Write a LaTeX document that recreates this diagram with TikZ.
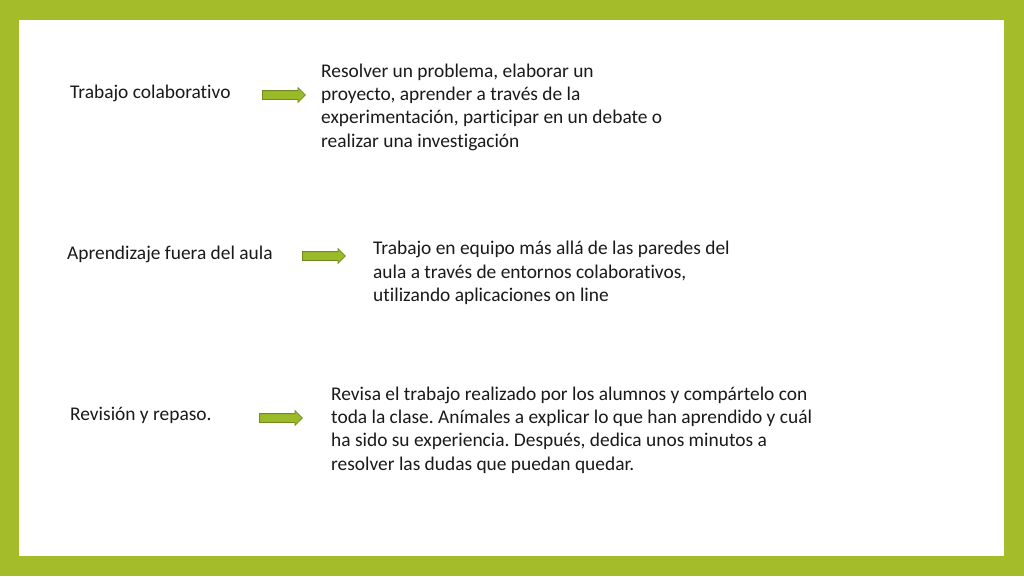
\documentclass[tikz,border=0pt]{standalone}
\usepackage{fontspec}
\setmainfont{Carlito}[Ligatures=NoCommon]
\frenchspacing
\usetikzlibrary{shapes.arrows}
\definecolor{framegreen}{RGB}{165,188,42}
\definecolor{arrowfill}{RGB}{155,186,40}
\definecolor{arrowline}{RGB}{112,138,32}
\definecolor{inktext}{RGB}{26,26,26}
\begin{document}
\begin{tikzpicture}[x=1pt,y=-1pt]
 \tikzset{topic/.style={anchor=west,inner sep=0,text=inktext,font=\fontsize{19.4}{23.4}\selectfont}}
 \tikzset{detail/.style={anchor=north west,inner sep=0,align=left,text=inktext,font=\fontsize{19.4}{23.4}\selectfont}}
 \tikzset{greenarrow/.style={single arrow,draw=arrowline,fill=arrowfill,line width=0.8,inner xsep=0,inner ysep=4,minimum height=43,single arrow head extend=3,anchor=west}}
 % frame
 \fill[framegreen] (0,0) rectangle (1024,576);
 \fill[white] (19,20) rectangle (1004,556);
 \useasboundingbox (0,0) rectangle (1024,576);

 % first row
 \node[topic] (t1) at (70,93) {Trabajo colaborativo};
 \node[greenarrow] (a1) at (262,95) {};
 \node[detail] (d1) at (321,63.5) {Resolver un problema, elaborar un\\proyecto, aprender a través de la\\experimentación, participar en un debate o\\realizar una investigación};

 % second row
 \node[topic] (t2) at (67,254) {Aprendizaje fuera del aula};
 \node[greenarrow] (a2) at (302,256) {};
 \node[detail] (d2) at (373,241) {Trabajo en equipo más allá de las paredes del\\aula a través de entornos colaborativos,\\utilizando aplicaciones on line};

 % third row
 \node[topic] (t3) at (70,415) {Revisión y repaso.};
 \node[greenarrow] (a3) at (259,418) {};
 \node[detail] (d3) at (331,386.5) {Revisa el trabajo realizado por los alumnos y compártelo con\\toda la clase. Anímales a explicar lo que han aprendido y cuál\\ha sido su experiencia. Después, dedica unos minutos a\\resolver las dudas que puedan quedar.};
\end{tikzpicture}
\end{document}
